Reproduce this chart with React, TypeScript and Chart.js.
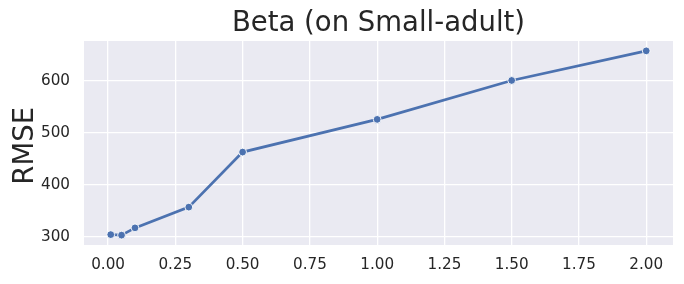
import React, { useEffect, useRef } from "react";
import { Chart, registerables } from "chart.js";

Chart.register(...registerables);

const betaValues = [0.01, 0.05, 0.1, 0.3, 0.5, 1.0, 1.5, 2.0];
const rmseValues = [304, 303, 317, 357, 463, 526, 601, 658];
const xTickValues = [0, 0.25, 0.5, 0.75, 1.0, 1.25, 1.5, 1.75, 2.0];
const yTickValues = [300, 400, 500, 600];
const titleText = "Beta (on Small-adult)";
const yAxisLabel = "RMSE";

const FONT = "'DejaVu Sans', sans-serif";
const TEXT = "#262626";

export default function App() {
  const ref = useRef<HTMLCanvasElement | null>(null);

  useEffect(() => {
    if (!ref.current) return;
    const chart = new Chart(ref.current, {
      type: "line",
      data: {
        datasets: [
          {
            data: betaValues.map((b, i) => ({ x: b, y: rmseValues[i] })),
            borderColor: "#4C72B0",
            backgroundColor: "#4C72B0",
            borderWidth: 2.7,
            pointRadius: 3.9,
            pointBorderColor: "#ffffff",
            pointBorderWidth: 0.9,
            pointBackgroundColor: "#4C72B0",
            tension: 0,
          },
        ],
      },
      options: {
        responsive: false,
        animation: false,
        layout: { padding: { left: 0, right: 11, top: 0, bottom: 0 } },
        plugins: {
          legend: { display: false },
          tooltip: { enabled: false },
          title: {
            display: true,
            fullSize: false,
            text: titleText,
            color: TEXT,
            font: { family: FONT, size: 27.5, weight: "normal" },
            padding: { top: 7.5, bottom: 0.5 },
          },
        },
        scales: {
          x: {
            type: "linear",
            min: -0.0895,
            max: 2.0995,
            afterBuildTicks: (s: any) => {
              s.ticks = xTickValues.map((v) => ({ value: v }));
            },
            afterFit: (s: any) => {
              s.height = 39;
            },
            border: { display: false },
            grid: { color: "#ffffff", lineWidth: 1.3, drawTicks: false },
            ticks: {
              color: TEXT,
              font: { family: FONT, size: 15.2 },
              padding: 11,
              maxRotation: 0,
              autoSkip: false,
              callback: (v: any) => Number(v).toFixed(2),
            },
          },
          y: {
            type: "linear",
            min: 284,
            max: 677,
            afterBuildTicks: (s: any) => {
              s.ticks = yTickValues.map((v) => ({ value: v }));
            },
            afterFit: (s: any) => {
              s.width = 84;
            },
            border: { display: false },
            grid: { color: "#ffffff", lineWidth: 1.3, drawTicks: false },
            ticks: {
              color: TEXT,
              font: { family: FONT, size: 15.2 },
              padding: 14,
              autoSkip: false,
              callback: (v: any) => String(v),
            },
          },
        },
      },
      plugins: [
        {
          id: "bg",
          beforeDraw: (c: any) => {
            const { ctx, chartArea } = c;
            ctx.save();
            ctx.fillStyle = "#EAEAF2";
            ctx.fillRect(
              chartArea.left,
              chartArea.top,
              chartArea.right - chartArea.left,
              chartArea.bottom - chartArea.top
            );
            ctx.restore();
          },
        },
        {
          id: "yLabel",
          afterDraw: (c: any) => {
            const { ctx } = c;
            ctx.save();
            ctx.translate(33.3, 145.8);
            ctx.rotate(-Math.PI / 2);
            ctx.fillStyle = TEXT;
            ctx.font = `27.5px ${FONT}`;
            ctx.textAlign = "center";
            ctx.textBaseline = "alphabetic";
            ctx.fillText(yAxisLabel, 0, 0);
            ctx.restore();
          },
        },
      ],
    });
    return () => chart.destroy();
  }, []);

  return (
    <div style={{ position: "absolute", left: 0, top: 0, width: 684, height: 284, background: "#fff" }}>
      <canvas ref={ref} width={684} height={284} style={{ width: 684, height: 284 }} />
    </div>
  );
}
